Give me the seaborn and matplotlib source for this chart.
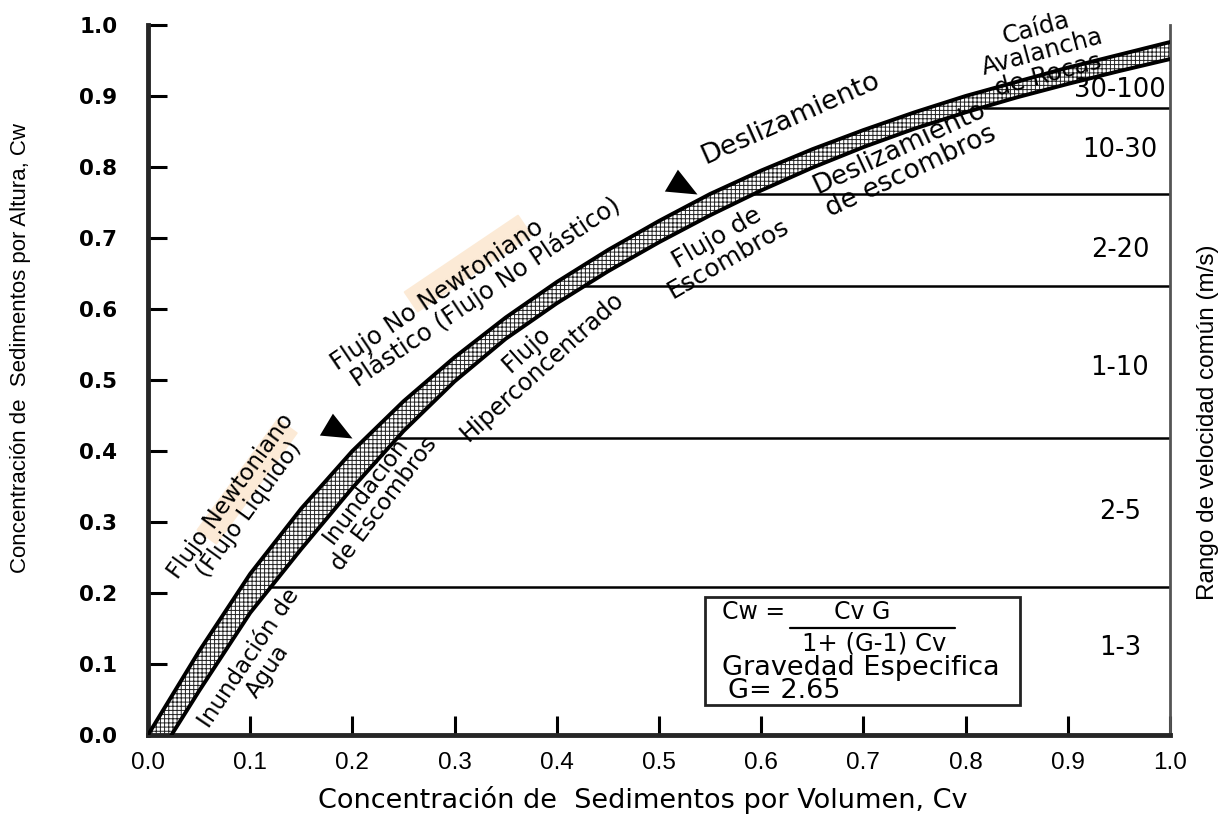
import numpy as np
import matplotlib
matplotlib.use('Agg')
import matplotlib.pyplot as plt
import seaborn as sns

# borde superior de la banda (Cv, Cw)
cv_sup = [0.0, 0.05, 0.1, 0.15, 0.2, 0.25, 0.3, 0.35, 0.4, 0.45, 0.5,
          0.55, 0.6, 0.65, 0.7, 0.75, 0.8, 0.85, 0.9, 0.95, 1.0]
cw_sup = [0.0, 0.118, 0.227, 0.319, 0.40, 0.47, 0.532, 0.588, 0.638, 0.683, 0.724,
          0.762, 0.795, 0.825, 0.852, 0.877, 0.90, 0.92, 0.94, 0.958, 0.976]
# borde inferior de la banda
cv_inf = [0.023, 0.05, 0.1, 0.15, 0.2, 0.25, 0.3, 0.35, 0.4, 0.45, 0.5,
          0.55, 0.6, 0.65, 0.7, 0.75, 0.8, 0.85, 0.9, 0.95, 1.0]
cw_inf = [0.0, 0.062, 0.172, 0.262, 0.348, 0.428, 0.498, 0.558, 0.608, 0.653, 0.694,
          0.732, 0.767, 0.799, 0.828, 0.854, 0.877, 0.898, 0.917, 0.935, 0.952]

# limites entre rangos de velocidad
lim_cw = [0.208, 0.418, 0.632, 0.762, 0.883]
lim_cv0 = [0.117, 0.243, 0.427, 0.586, 0.817]
vel_labels = ['1-3', '2-5', '1-10', '2-20', '10-30', '30-100']
vel_pos = [0.123, 0.314, 0.517, 0.683, 0.824, 0.908]

regimenes = ['Flujo Newtoniano\n(Flujo Liquido)', 'Inundación de\nAgua', 'Inundación\nde Escombros',
             'Flujo No Newtoniano\n Plástico (Flujo No Plástico)', 'Flujo\nHiperconcentrado',
             'Flujo de\nEscombros', 'Deslizamiento', 'Deslizamiento\nde escombros',
             'Caída\nAvalancha\nde Rocas']
# x, y, rotacion, tamaño, alineacion
reg_layout = [(0.09, 0.327, 54, 16.5, 'center'), (0.108, 0.099, 56, 16.5, 'center'),
              (0.222, 0.335, 53, 16.5, 'center'), (0.188, 0.506, 34, 17.5, 'left'),
              (0.378, 0.531, 42, 17, 'center'), (0.562, 0.686, 30, 18, 'center'),
              (0.629, 0.868, 24, 19.5, 'center'), (0.741, 0.81, 25, 19, 'center'),
              (0.875, 0.962, 15, 17.5, 'center')]
flechas = [(0.2, 0.418), (0.537, 0.762)]

sns.set_style('ticks')
plt.rcParams['font.family'] = ['DejaVu Sans']
for k in ['text.color', 'axes.labelcolor', 'xtick.color', 'ytick.color']:
    plt.rcParams[k] = 'black'
plt.rcParams['hatch.linewidth'] = 0.7
arial = ['Liberation Sans', 'DejaVu Sans']

fig = plt.figure(figsize=(12.24, 8.17), dpi=100)
ax = fig.add_axes([0.1209, 0.1004, 0.835, 0.869])

ax.fill(np.concatenate([cv_sup, cv_inf[::-1]]), np.concatenate([cw_sup, cw_inf[::-1]]),
        facecolor='white', edgecolor='#222222', hatch='++++', lw=0, zorder=2)
sns.lineplot(x=cv_sup, y=cw_sup, sort=False, color='black', lw=2.8, ax=ax, zorder=3)
sns.lineplot(x=cv_inf, y=cw_inf, sort=False, color='black', lw=2.8, ax=ax, zorder=3)

for y0, x0 in zip(lim_cw, lim_cv0):
    ax.hlines(y0, x0, 1.0, color='black', lw=1.8, zorder=1)

for lab, yv in zip(vel_labels, vel_pos):
    ax.text(0.951, yv, lab, ha='center', va='center', fontsize=18.5)

for txt, (x, y, rot, fs, ha) in zip(regimenes, reg_layout):
    ax.text(x, y, txt, ha=ha, va='center', rotation=rot, rotation_mode='anchor',
            fontsize=fs, linespacing=1.0, multialignment=ha, clip_on=False, zorder=4)

# resaltado de "Newtoniano"
for x, y, rot in [(0.097, 0.357, 54), (0.313, 0.664, 34)]:
    ax.text(x, y, 'Newtoniano', ha='center', va='center', rotation=rot, rotation_mode='anchor',
            fontsize=16.5, color=(0, 0, 0, 0),
            bbox=dict(boxstyle='round,pad=0.05', fc='#f8cc9a', ec='none', alpha=0.4), zorder=0)

# flechas triangulares
tri = [(0, 0), (-1, 0.09), (-0.6, 0.76), (0, 0)]
for tx, ty in flechas:
    ax.plot(tx, ty, marker=tri, markersize=47, color='black', mec='black', mew=0, zorder=5)

# cuadro con la formula
ax.add_patch(plt.Rectangle((0.545, 0.042), 0.308, 0.152, fill=False, lw=2, ec='#222222', zorder=4))
ax.text(0.5616, 0.173, 'Cw =', fontsize=17, va='center', ha='left')
ax.text(0.699, 0.173, 'Cv G', fontsize=17, va='center', ha='center')
ax.plot([0.628, 0.790], [0.151, 0.151], color='black', lw=1.6)
ax.text(0.711, 0.129, '1+ (G-1) Cv', fontsize=17.5, va='center', ha='center')
ax.text(0.5616, 0.095, 'Gravedad Especifica', fontsize=19.5, va='center', ha='left')
ax.text(0.5675, 0.062, 'G= 2.65', fontsize=19.5, va='center', ha='left')

ax.set_xlim(0, 1.0)
ax.set_ylim(0, 1.0)
ticks = np.arange(0, 1.01, 0.1)
ax.set_xticks(ticks)
ax.set_yticks(ticks)
ax.set_xticklabels([f'{v:.1f}' for v in ticks], fontsize=17.5, family=arial)
ax.set_yticklabels([f'{v:.1f}' for v in ticks], fontsize=15.5, fontweight='bold')
ax.tick_params(axis='both', direction='in', length=14, width=2.2)
ax.tick_params(axis='y', pad=22)
ax.tick_params(axis='x', pad=12)
for s in ['left', 'bottom']:
    ax.spines[s].set_linewidth(3.5)
ax.spines['right'].set_linewidth(2)
ax.spines['right'].set_color('#555555')
ax.spines['top'].set_visible(False)

fig.text(0.525, 0.021, 'Concentración de  Sedimentos por Volumen, Cv', ha='center', va='center',
         fontsize=19.5)
fig.text(0.017, 0.574, 'Concentración de  Sedimentos por Altura, Cw', rotation=90,
         ha='center', va='center', fontsize=16, family=arial)
fig.text(0.987, 0.483, 'Rango de velocidad común (m/s)', rotation=90,
         ha='center', va='center', fontsize=17.5, family=arial)

fig.savefig('out.png', dpi=100)
